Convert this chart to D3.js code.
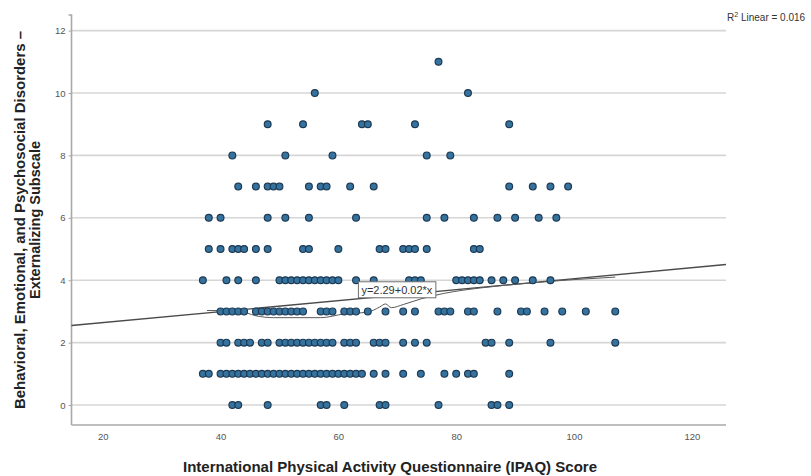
<!DOCTYPE html>
<html>
<head>
<meta charset="utf-8">
<script src="https://cdn.jsdelivr.net/npm/d3@7"></script>
<style>
  html, body { margin: 0; padding: 0; background: #ffffff; }
  svg { display: block; }
  text { font-family: "Liberation Sans", Arial, sans-serif; }
</style>
</head>
<body>
<svg id="chart" width="811" height="476"></svg>
<script>
// IPAQ scores of the participants, grouped by their externalizing subscale score
const ipaqAtScore0  = [42, 43, 48, 57, 58, 61, 67, 68, 77, 86, 87, 89];
const ipaqAtScore1  = [37, 38, 40, 41, 42, 43, 44, 45, 46, 47, 48, 49, 50, 51, 52, 53, 54, 55, 56, 57, 58, 59, 60, 61, 62, 63, 64, 66, 68, 71, 74, 78, 80, 82, 83, 89];
const ipaqAtScore2  = [40, 41, 43, 44, 45, 47, 48, 50, 51, 52, 53, 54, 55, 56, 57, 58, 59, 61, 62, 63, 66, 67, 68, 71, 73, 75, 85, 86, 89, 96, 107];
const ipaqAtScore3  = [40, 41, 42, 43, 44, 46, 47, 48, 49, 50, 51, 52, 53, 54, 57, 58, 59, 61, 62, 63, 65, 68, 71, 73, 77, 78, 79, 82, 83, 87, 91, 92, 95, 98, 102, 107];
const ipaqAtScore4  = [37, 41, 43, 46, 50, 51, 52, 53, 54, 55, 56, 57, 58, 59, 60, 63, 66, 72, 73, 74, 80, 81, 82, 83, 84, 86, 88, 90, 93, 96];
const ipaqAtScore5  = [38, 40, 42, 43, 44, 46, 48, 54, 55, 60, 67, 68, 71, 72, 73, 75, 83, 84];
const ipaqAtScore6  = [38, 40, 48, 51, 55, 63, 75, 78, 83, 87, 90, 94, 97];
const ipaqAtScore7  = [43, 46, 48, 49, 50, 55, 57, 58, 62, 66, 89, 93, 96, 99];
const ipaqAtScore8  = [42, 51, 59, 75, 79];
const ipaqAtScore9  = [48, 54, 64, 65, 73, 89];
const ipaqAtScore10 = [56, 82];
const ipaqAtScore11 = [77];

const subscaleScores = [0, 1, 2, 3, 4, 5, 6, 7, 8, 9, 10, 11];
const ipaqByScore = [ipaqAtScore0, ipaqAtScore1, ipaqAtScore2, ipaqAtScore3, ipaqAtScore4,
  ipaqAtScore5, ipaqAtScore6, ipaqAtScore7, ipaqAtScore8, ipaqAtScore9, ipaqAtScore10, ipaqAtScore11];

// Linear fit and its summary
const fitIntercept = 2.29;
const fitSlope = 0.0176;
const fitRSquared = 0.016;

// Smoothed fit through the data
const smoothX = [37.7, 43, 46, 49, 57, 61, 65, 67, 68, 69, 71, 74, 78, 84, 92, 100, 107];
const smoothY = [3.03, 3.02, 2.86, 2.80, 2.80, 2.92, 2.98, 3.14, 3.24, 3.12, 3.22, 3.40, 3.58, 3.75, 3.90, 4.02, 4.10];

// Axis ticks
const xTicks = [20, 40, 60, 80, 100, 120];
const yTicks = [0, 2, 4, 6, 8, 10, 12];

// Where the equation label sits (data units, top-left corner)
const equationAt = { x: 63.4, y: 3.95 };

const points = [];
subscaleScores.forEach((s, i) => ipaqByScore[i].forEach(v => points.push({ x: v, y: s })));

const svg = d3.select("#chart");
const plot = { left: 71.5, right: 726, top: 15, bottom: 425 };

const x = d3.scaleLinear().domain([14.7, 125.8]).range([plot.left, plot.right]);
const y = d3.scaleLinear().domain([-0.64, 12.5]).range([plot.bottom, plot.top]);

// Horizontal gridlines
svg.append("g")
  .selectAll("line")
  .data(yTicks)
  .join("line")
  .attr("x1", plot.left).attr("x2", plot.right)
  .attr("y1", d => y(d)).attr("y2", d => y(d))
  .attr("stroke", "#d6d6d6")
  .attr("stroke-width", 1.6);

// Axes
const yAxis = d3.axisLeft(y).tickValues(yTicks).tickSize(3).tickPadding(3);
const xAxis = d3.axisBottom(x).tickValues(xTicks).tickSize(0).tickPadding(8);

const gy = svg.append("g").attr("transform", `translate(${plot.left},0)`).call(yAxis);
const gx = svg.append("g").attr("transform", `translate(0,${plot.bottom})`).call(xAxis);

[gx, gy].forEach(g => {
  g.select(".domain").attr("stroke", "#a9a9a9").attr("stroke-width", 1.6);
  g.selectAll(".tick line").attr("stroke", "#a9a9a9");
  g.selectAll(".tick text")
    .attr("font-family", "Liberation Sans, Arial, sans-serif")
    .attr("font-size", 9.5)
    .attr("fill", "#555");
});
gy.select(".domain").attr("d", `M-3,${plot.top}H0V${plot.bottom}`);
gx.select(".domain").attr("d", `M${plot.left},0H${plot.right}`);

// Linear fit line across the whole axis
const [x0, x1] = x.domain();
svg.append("line")
  .attr("x1", x(x0)).attr("y1", y(fitIntercept + fitSlope * x0))
  .attr("x2", x(x1)).attr("y2", y(fitIntercept + fitSlope * x1))
  .attr("stroke", "#4a4a4a")
  .attr("stroke-width", 1.3);

// Smoothed fit
const smooth = smoothX.map((v, i) => [v, smoothY[i]]);
svg.append("path")
  .datum(smooth)
  .attr("d", d3.line().x(d => x(d[0])).y(d => y(d[1])).curve(d3.curveMonotoneX))
  .attr("fill", "none")
  .attr("stroke", "#5a5a5a")
  .attr("stroke-width", 1);

// Data points
svg.append("g")
  .selectAll("circle")
  .data(points)
  .join("circle")
  .attr("cx", d => x(d.x))
  .attr("cy", d => y(d.y))
  .attr("r", 3.4)
  .attr("fill", "#35729d")
  .attr("stroke", "#1d3a55")
  .attr("stroke-width", 1.2);

// Equation label
const eqText = `y=${fitIntercept.toFixed(2)}+${fitSlope.toFixed(2)}*x`;
const eqG = svg.append("g").attr("transform", `translate(${x(equationAt.x)},${y(equationAt.y)})`);
const eqRect = eqG.append("rect").attr("fill", "#ffffff").attr("stroke", "#6f6f6f").attr("stroke-width", 1);
const eqLabel = eqG.append("text")
  .attr("x", 3).attr("y", 12)
  .attr("font-size", 11)
  .attr("fill", "#333")
  .text(eqText);
const eb = eqLabel.node().getBBox();
eqRect.attr("x", 0).attr("y", 0).attr("width", eb.width + 6).attr("height", 16);

// R-squared note
const r2 = svg.append("text")
  .attr("x", 727).attr("y", 21)
  .attr("font-size", 10)
  .attr("fill", "#333");
r2.append("tspan").text("R");
r2.append("tspan").attr("dy", -4).attr("font-size", 7).text("2");
r2.append("tspan").attr("dy", 4).text(` Linear = ${fitRSquared.toFixed(3)}`);

// Axis titles
svg.append("text")
  .attr("x", 390).attr("y", 472)
  .attr("text-anchor", "middle")
  .attr("font-size", 14.5)
  .attr("font-weight", "bold")
  .attr("fill", "#222")
  .attr("textLength", 414)
  .attr("lengthAdjust", "spacingAndGlyphs")
  .text("International Physical Activity Questionnaire (IPAQ) Score");

const yTitle = svg.append("text")
  .attr("transform", "translate(0,220) rotate(-90)")
  .attr("text-anchor", "middle")
  .attr("font-size", 14.5)
  .attr("font-weight", "bold")
  .attr("fill", "#222");
yTitle.append("tspan").attr("x", 0).attr("y", 25)
  .attr("textLength", 378).attr("lengthAdjust", "spacingAndGlyphs")
  .text("Behavioral, Emotional, and Psychosocial Disorders –");
yTitle.append("tspan").attr("x", 0).attr("y", 40).text("Externalizing Subscale");
</script>
</body>
</html>
